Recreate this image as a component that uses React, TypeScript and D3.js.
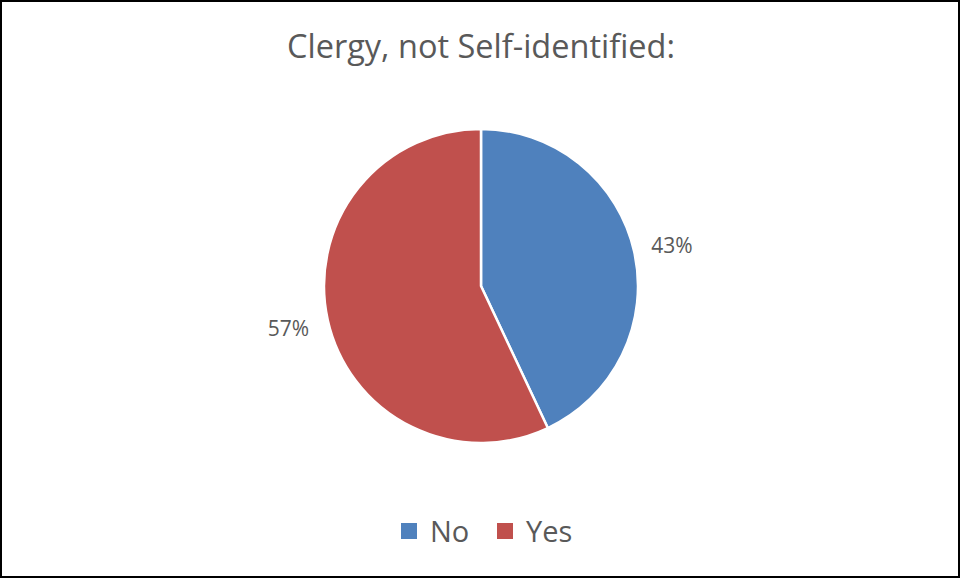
import React from "react";
import * as d3 from "d3";

const categories = ["No", "Yes"];
const values = [43, 57];
const colors = ["#4F81BD", "#C0504D"];
const title = "Clergy, not Self-identified:";

const W = 961;
const H = 579;

export default function App() {
  const cx = 481;
  const cy = 286;
  const r = 157;
  const pie = d3.pie<number>().sort(null).value((d) => d)(values);
  const arc = d3.arc<d3.PieArcDatum<number>>().innerRadius(0).outerRadius(r);
  const font = "'Open Sans', sans-serif";
  const textColor = "#595959";
  const legendX = [401, 497];
  return (
    <svg
      width={W}
      height={H}
      style={{ position: "absolute", left: 0, top: 0, background: "#fff" }}
    >
      <rect x={1} y={1} width={W - 3} height={H - 3} fill="#fff" stroke="#000" strokeWidth={2} />
      <text
        x={481}
        y={58}
        textAnchor="middle"
        fontFamily={font}
        fontSize={33}
        fill={textColor}
        textLength={388}
        lengthAdjust="spacingAndGlyphs"
      >
        {title}
      </text>
      <g transform={`translate(${cx},${cy})`}>
        {pie.map((p, i) => (
          <path key={i} d={arc(p) || ""} fill={colors[i]} stroke="#fff" strokeWidth={2.5} />
        ))}
      </g>
      <text x={672} y={253} textAnchor="middle" fontFamily={font} fontSize={21} fill={textColor}>
        {`${values[0]}%`}
      </text>
      <text x={288.5} y={336} textAnchor="middle" fontFamily={font} fontSize={21} fill={textColor}>
        {`${values[1]}%`}
      </text>
      {categories.map((c, i) => (
        <g key={c}>
          <rect x={legendX[i]} y={523} width={16} height={16} fill={colors[i]} />
          <text x={legendX[i] + 29} y={541.5} fontFamily={font} fontSize={29} fill={textColor}>
            {c}
          </text>
        </g>
      ))}
    </svg>
  );
}
